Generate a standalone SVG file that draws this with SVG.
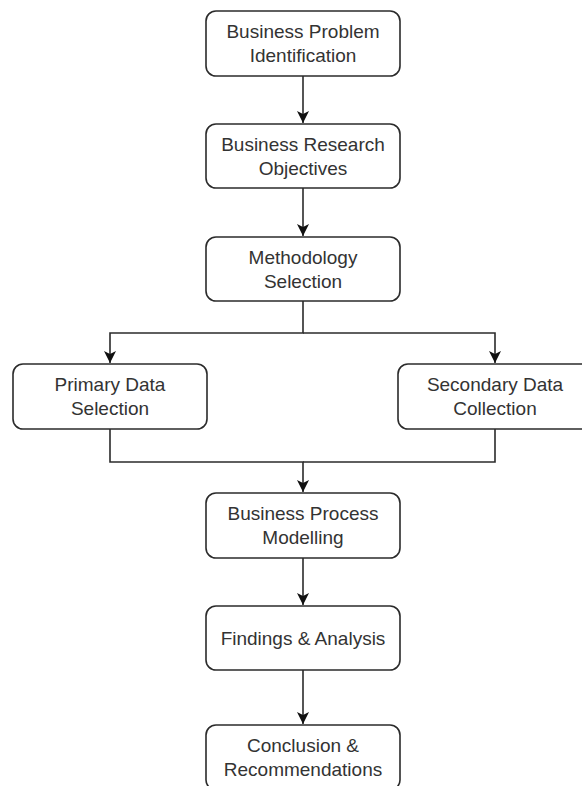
<svg xmlns="http://www.w3.org/2000/svg" width="582" height="786" viewBox="0 0 582 786">
  <style>
    .box { fill: #ffffff; stroke: #2b2b2b; stroke-width: 1.6; }
    .lbl { font-family: "Liberation Sans", Arial, sans-serif; font-size: 19px; fill: #333333; text-anchor: middle; }
    .edge { fill: none; stroke: #2b2b2b; stroke-width: 1.6; }
  </style>
  <defs>
    <marker id="arrow" viewBox="0 0 12 12" refX="12" refY="6" markerWidth="12" markerHeight="12" markerUnits="userSpaceOnUse" orient="auto">
      <path d="M0,0 L12,6 L0,12 L3,6 Z" fill="#111111"/>
    </marker>
  </defs>
  <rect width="582" height="786" fill="#ffffff"/>

  <g id="connectors">
    <path class="edge" d="M303,76 V123" marker-end="url(#arrow)"/>
    <path class="edge" d="M303,188 V236" marker-end="url(#arrow)"/>
    <path class="edge" d="M303,301 V333 H110 V363" marker-end="url(#arrow)"/>
    <path class="edge" d="M303,333 H495 V363" marker-end="url(#arrow)"/>
    <path class="edge" d="M110,429 V462 H303 V492" marker-end="url(#arrow)"/>
    <path class="edge" d="M495,429 V462 H303"/>
    <path class="edge" d="M303,558 V605" marker-end="url(#arrow)"/>
    <path class="edge" d="M303,670 V724" marker-end="url(#arrow)"/>
  </g>

  <g id="problem">
    <rect class="box" x="206" y="11" width="194" height="65" rx="10"/>
    <text class="lbl" x="303" y="38">Business Problem</text>
    <text class="lbl" x="303" y="62">Identification</text>
  </g>
  <g id="objectives">
    <rect class="box" x="206" y="124" width="194" height="64" rx="10"/>
    <text class="lbl" x="303" y="151">Business Research</text>
    <text class="lbl" x="303" y="175">Objectives</text>
  </g>
  <g id="methodology">
    <rect class="box" x="206" y="237" width="194" height="64" rx="10"/>
    <text class="lbl" x="303" y="264">Methodology</text>
    <text class="lbl" x="303" y="288">Selection</text>
  </g>
  <g id="primary">
    <rect class="box" x="13" y="364" width="194" height="65" rx="10"/>
    <text class="lbl" x="110" y="391">Primary Data</text>
    <text class="lbl" x="110" y="415">Selection</text>
  </g>
  <g id="secondary">
    <rect class="box" x="398" y="364" width="194" height="65" rx="10"/>
    <text class="lbl" x="495" y="391">Secondary Data</text>
    <text class="lbl" x="495" y="415">Collection</text>
  </g>
  <g id="modelling">
    <rect class="box" x="206" y="493" width="194" height="65" rx="10"/>
    <text class="lbl" x="303" y="520">Business Process</text>
    <text class="lbl" x="303" y="544">Modelling</text>
  </g>
  <g id="findings">
    <rect class="box" x="206" y="606" width="194" height="64" rx="10"/>
    <text class="lbl" x="303" y="645">Findings &amp; Analysis</text>
  </g>
  <g id="conclusion">
    <rect class="box" x="206" y="725" width="194" height="65" rx="10"/>
    <text class="lbl" x="303" y="752">Conclusion &amp;</text>
    <text class="lbl" x="303" y="776">Recommendations</text>
  </g>
</svg>
